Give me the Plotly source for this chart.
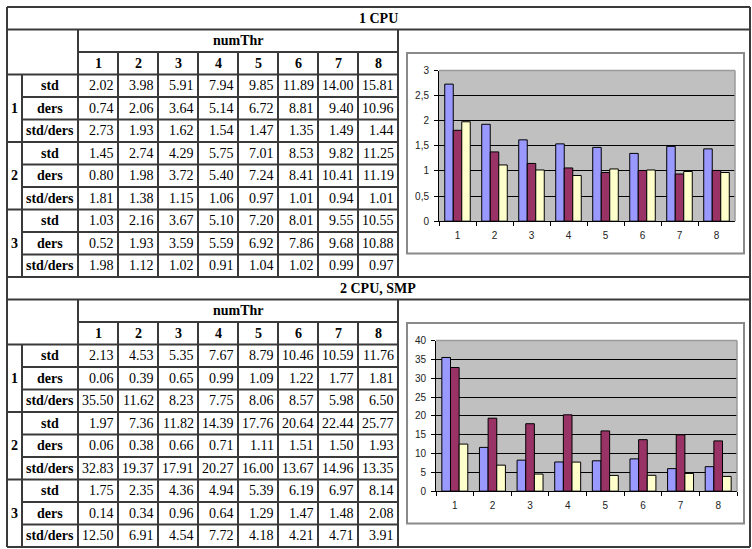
import plotly.graph_objects as go

# ---------------- data ----------------
threads = ["1", "2", "3", "4", "5", "6", "7", "8"]
groups = ["1", "2", "3"]
row_kinds = ["std", "ders", "std/ders"]
section_titles = ["1 CPU", "2 CPU, SMP"]
header_label = "numThr"

cpu1_std = [[2.02, 3.98, 5.91, 7.94, 9.85, 11.89, 14.00, 15.81],
            [1.45, 2.74, 4.29, 5.75, 7.01, 8.53, 9.82, 11.25],
            [1.03, 2.16, 3.67, 5.10, 7.20, 8.01, 9.55, 10.55]]
cpu1_ders = [[0.74, 2.06, 3.64, 5.14, 6.72, 8.81, 9.40, 10.96],
             [0.80, 1.98, 3.72, 5.40, 7.24, 8.41, 10.41, 11.19],
             [0.52, 1.93, 3.59, 5.59, 6.92, 7.86, 9.68, 10.88]]
cpu1_ratio = [[2.73, 1.93, 1.62, 1.54, 1.47, 1.35, 1.49, 1.44],
              [1.81, 1.38, 1.15, 1.06, 0.97, 1.01, 0.94, 1.01],
              [1.98, 1.12, 1.02, 0.91, 1.04, 1.02, 0.99, 0.97]]

cpu2_std = [[2.13, 4.53, 5.35, 7.67, 8.79, 10.46, 10.59, 11.76],
            [1.97, 7.36, 11.82, 14.39, 17.76, 20.64, 22.44, 25.77],
            [1.75, 2.35, 4.36, 4.94, 5.39, 6.19, 6.97, 8.14]]
cpu2_ders = [[0.06, 0.39, 0.65, 0.99, 1.09, 1.22, 1.77, 1.81],
             [0.06, 0.38, 0.66, 0.71, 1.11, 1.51, 1.50, 1.93],
             [0.14, 0.34, 0.96, 0.64, 1.29, 1.47, 1.48, 2.08]]
cpu2_ratio = [[35.50, 11.62, 8.23, 7.75, 8.06, 8.57, 5.98, 6.50],
              [32.83, 19.37, 17.91, 20.27, 16.00, 13.67, 14.96, 13.35],
              [12.50, 6.91, 4.54, 7.72, 4.18, 4.21, 4.71, 3.91]]

chart1_yticks = [0, 0.5, 1, 1.5, 2, 2.5, 3]
chart2_yticks = [0, 5, 10, 15, 20, 25, 30, 35, 40]

# ---------------- layout helpers ----------------
W, H = 752, 549


def px(x):
    return x / W


def py(y):
    return 1 - y / H


SERIF = "Liberation Serif, Times New Roman, serif"
SANS = "Liberation Sans, Arial, sans-serif"
FS = 14
LINE = dict(color="#3a3a3a", width=2)
X_LEFT, X_GRP, X_LBL, COL_W, X_TAB, X_RIGHT = 7, 22, 78, 40, 398, 750
R = 23
BAR_COLORS = ["#9999FF", "#993366", "#FFFFCC"]

shapes = []
ann = []


def hline(x0, x1, y, line=LINE, layer="above"):
    shapes.append(dict(type="line", xref="paper", yref="paper", x0=px(x0), x1=px(x1),
                       y0=py(y), y1=py(y), line=line, layer=layer))


def vline(x, y0, y1, line=LINE, layer="above"):
    shapes.append(dict(type="line", xref="paper", yref="paper", x0=px(x), x1=px(x),
                       y0=py(y0), y1=py(y1), line=line, layer=layer))


def text(x, y, s, bold=False, xanchor="center", size=FS, family=SERIF):
    ann.append(dict(x=px(x), y=py(y), xref="paper", yref="paper", text=("<b>%s</b>" % s) if bold else s,
                    showarrow=False, xanchor=xanchor, yanchor="middle",
                    font=dict(family=family, size=size, color="#000000")))


sections = [
    dict(title=section_titles[0], std=cpu1_std, ders=cpu1_ders, ratio=cpu1_ratio, top=1,
         plot_x=(439, 735), yticks=chart1_yticks, ax="", ),
    dict(title=section_titles[1], std=cpu2_std, ders=cpu2_ders, ratio=cpu2_ratio, top=277,
         plot_x=(436, 737), yticks=chart2_yticks, ax="2"),
]

fig = go.Figure()

for s in sections:
    T = s["top"]
    # full-width lines
    hline(X_LEFT, X_RIGHT, T)
    hline(X_LEFT, X_RIGHT, T + R)
    hline(X_LEFT, X_RIGHT, T + 12 * R)
    vline(X_LEFT, T, T + 12 * R)
    vline(X_RIGHT, T, T + 12 * R)
    # table grid
    hline(X_LBL, X_TAB, T + 2 * R)
    hline(X_LEFT, X_TAB, T + 3 * R)
    vline(X_LBL, T + R, T + 12 * R)
    vline(X_TAB, T + R, T + 12 * R)
    vline(X_GRP, T + 3 * R, T + 12 * R)
    for c in range(1, 8):
        vline(X_LBL + c * COL_W, T + 2 * R, T + 12 * R)
    for r in range(1, 9):
        y = T + 3 * R + r * R
        hline(X_LEFT if r % 3 == 0 else X_GRP, X_TAB, y)

    # texts
    text((X_LEFT + X_RIGHT) / 2, T + R / 2, s["title"], bold=True)
    text((X_LBL + X_TAB) / 2, T + 1.5 * R, header_label, bold=True)
    for c, t in enumerate(threads):
        text(X_LBL + c * COL_W + COL_W / 2, T + 2.5 * R, t, bold=True)
    for g, gname in enumerate(groups):
        g_top = T + 3 * R + g * 3 * R
        text((X_LEFT + X_GRP) / 2, g_top + 1.5 * R, gname, bold=True)
        rows = [s["std"][g], s["ders"][g], s["ratio"][g]]
        for k, (kind, vals) in enumerate(zip(row_kinds, rows)):
            yc = g_top + k * R + R / 2
            text((X_GRP + X_LBL) / 2, yc, kind, bold=True)
            for c, v in enumerate(vals):
                text(X_LBL + (c + 1) * COL_W - 2.5, yc, "%.2f" % v, xanchor="right")

    # chart box and plot area
    shapes.append(dict(type="rect", xref="paper", yref="paper", x0=px(407), x1=px(744),
                       y0=py(T + 252), y1=py(T + 47), fillcolor="#FFFFFF",
                       line=dict(color="#8a8a8a", width=2), layer="below"))
    x0, x1 = s["plot_x"]
    shapes.append(dict(type="rect", xref="paper", yref="paper", x0=px(x0), x1=px(x1),
                       y0=py(T + 219), y1=py(T + 65), fillcolor="#C0C0C0",
                       line=dict(width=0), layer="below"))
    # gray top/right border of plot area over the top gridline
    hline(x0, x1, T + 65, line=dict(color="#9a9a9a", width=1.5))
    vline(x1, T + 65, T + 219, line=dict(color="#9a9a9a", width=1.5))

    # bars
    for g in range(3):
        fig.add_trace(go.Bar(x=threads, y=s["ratio"][g], name=groups[g],
                             marker=dict(color=BAR_COLORS[g], line=dict(color="#000000", width=1)),
                             xaxis="x" + s["ax"], yaxis="y" + s["ax"], showlegend=False))

    ymax = s["yticks"][-1]
    axis_font = dict(family=SANS, size=10, color="#222222")
    fig.layout["xaxis" + s["ax"]] = dict(
        domain=[px(x0), px(x1)], anchor="y" + s["ax"], type="category",
        tickson="boundaries", ticks="outside", ticklen=4, tickcolor="#000000",
        showline=True, linecolor="#000000", linewidth=1, showgrid=False,
        tickfont=axis_font, ticklabelstandoff=5, fixedrange=True)
    fig.layout["yaxis" + s["ax"]] = dict(
        domain=[py(T + 219), py(T + 65)], anchor="x" + s["ax"], range=[0, ymax],
        tickvals=s["yticks"], ticks="outside", ticklen=4, tickcolor="#000000",
        showline=True, linecolor="#000000", linewidth=1, showgrid=True,
        gridcolor="#000000", gridwidth=1, zeroline=False, tickfont=axis_font,
        ticklabelstandoff=3, fixedrange=True)

fig.update_layout(
    width=W, height=H, margin=dict(l=0, r=0, t=0, b=0),
    paper_bgcolor="#FFFFFF", plot_bgcolor="rgba(0,0,0,0)",
    barmode="group", bargap=0.31, bargroupgap=0,
    separators=", ", shapes=shapes, annotations=ann, showlegend=False,
)

fig.write_html("out.html")
